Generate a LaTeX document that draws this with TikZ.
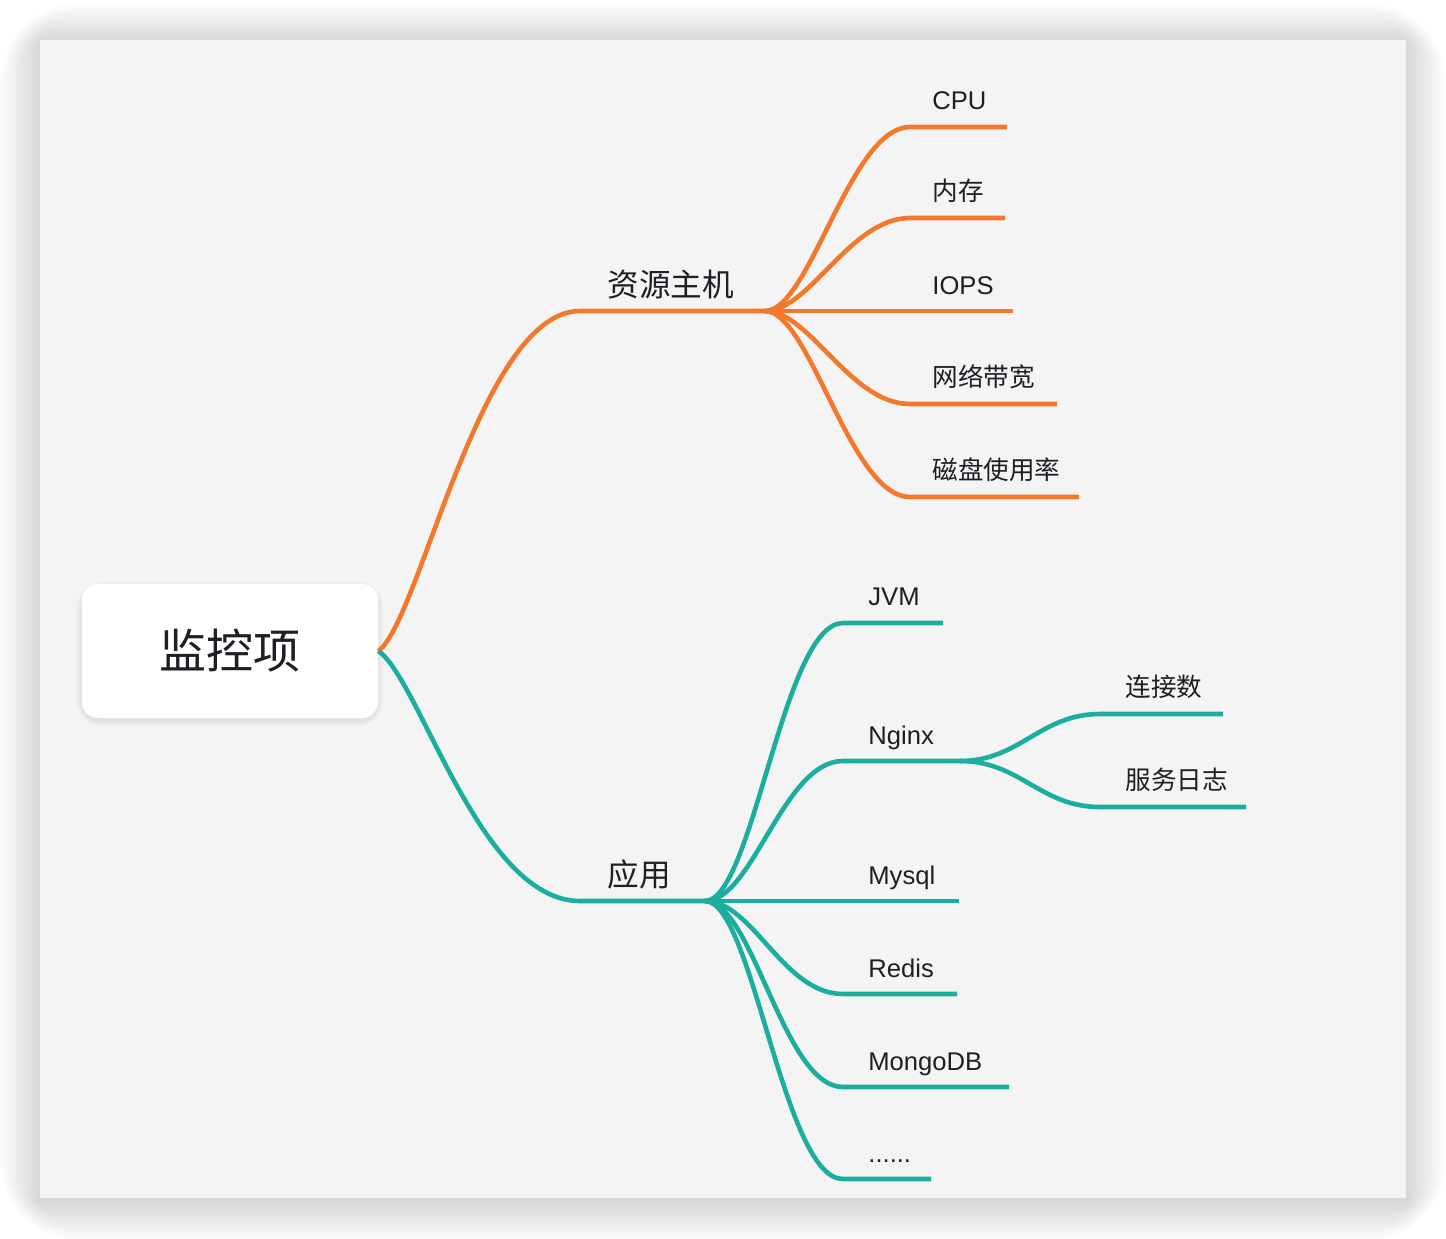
\documentclass[tikz,border=0pt]{standalone}
\usepackage{fontspec}
\setmainfont{Liberation Sans}
\newfontfamily\cjk{Noto Sans CJK SC}
\definecolor{panelgray}{RGB}{244,244,244}
\definecolor{ink}{RGB}{30,30,36}
\definecolor{hostorange}{RGB}{242,121,44}
\definecolor{appteal}{RGB}{27,173,158}
\tikzset{
  rootbox/.style={fill=white, rounded corners=8pt, minimum width=148pt, minimum height=67pt,
    text=ink, font=\cjk\fontsize{23.5pt}{26pt}\selectfont},
  topic/.style={anchor=base west, inner sep=0pt, text=ink, font=\cjk\fontsize{15.8pt}{18pt}\selectfont},
  leaf/.style={anchor=base west, inner sep=0pt, text=ink, font=\fontsize{12.8pt}{15pt}\selectfont},
  hostline/.style={draw=hostorange, line width=2.3pt},
  appline/.style={draw=appteal, line width=2.3pt},
}

\begin{document}
\begin{tikzpicture}[x=0.5pt,y=-0.5pt]
		\useasboundingbox (0,0) rectangle (1446,1238);
		%%%%% PANEL %%%%%
		\foreach \r in {1,...,20}
			\fill[black, opacity=0.006, rounded corners=2*\r] (40-2*\r,43-2*\r) rectangle (1406+2*\r,1201+2*\r);
		\fill[panelgray] (40,40) rectangle (1406,1198);
		
		%%%%% ROOT %%%%%
		\foreach \r in {1,...,6}
			\fill[black, opacity=0.012, rounded corners=8pt+\r] (82-\r,587-\r) rectangle (378+\r,721+\r);
		\node[rootbox] (root) at (230,651) {监控项};
		
		%%%%% 资源主机 %%%%%
		\coordinate (host-s) at (580,311);
		\coordinate (host-e) at (765,311);
		\node[topic] (host) at (607,296) {资源主机};
		\draw[hostline] (root.east) .. controls +(42,-31) and +(-100,0) .. (host-s) -- (host-e);
		
		\coordinate (cpu-s) at (910,127);
		\coordinate (cpu-e) at (1007,127);
		\node[leaf] (cpu) at (932,109) {CPU};
		\draw[hostline] (host-e) .. controls +(45,0) and +(-60,0) .. (cpu-s) -- (cpu-e);
		
		\coordinate (mem-s) at (910,218);
		\coordinate (mem-e) at (1005,218);
		\node[leaf] (mem) at (932,200) {\cjk 内存};
		\draw[hostline] (host-e) .. controls +(45,0) and +(-60,0) .. (mem-s) -- (mem-e);
		
		\coordinate (iops-e) at (1013,311);
		\node[leaf] (iops) at (932,294) {IOPS};
		\draw[hostline] (host-e) -- (iops-e);
		
		\coordinate (net-s) at (910,404);
		\coordinate (net-e) at (1057,404);
		\node[leaf] (net) at (932,386) {\cjk 网络带宽};
		\draw[hostline] (host-e) .. controls +(45,0) and +(-60,0) .. (net-s) -- (net-e);
		
		\coordinate (disk-s) at (910,497);
		\coordinate (disk-e) at (1079,497);
		\node[leaf] (disk) at (932,479) {\cjk 磁盘使用率};
		\draw[hostline] (host-e) .. controls +(45,0) and +(-60,0) .. (disk-s) -- (disk-e);
		
		%%%%% 应用 %%%%%
		\coordinate (app-s) at (580,901);
		\coordinate (app-e) at (705,901);
		\node[topic] (app) at (607,886) {应用};
		\draw[appline] (root.east) .. controls +(42,29) and +(-100,0) .. (app-s) -- (app-e);
		
		\coordinate (jvm-s) at (843,623);
		\coordinate (jvm-e) at (943,623);
		\node[leaf] (jvm) at (868,605) {JVM};
		\draw[appline] (app-e) .. controls +(48,0) and +(-60,0) .. (jvm-s) -- (jvm-e);
		
		\coordinate (nginx-s) at (843,761);
		\coordinate (nginx-e) at (960,761);
		\node[leaf] (nginx) at (868,744) {Nginx};
		\draw[appline] (app-e) .. controls +(48,0) and +(-60,0) .. (nginx-s) -- (nginx-e);
		
		\coordinate (conn-s) at (1100,714);
		\coordinate (conn-e) at (1223,714);
		\node[leaf] (conn) at (1125,696) {\cjk 连接数};
		\draw[appline] (nginx-e) .. controls +(60,0) and +(-60,0) .. (conn-s) -- (conn-e);
		
		\coordinate (log-s) at (1100,807);
		\coordinate (log-e) at (1246,807);
		\node[leaf] (log) at (1125,789) {\cjk 服务日志};
		\draw[appline] (nginx-e) .. controls +(60,0) and +(-60,0) .. (log-s) -- (log-e);
		
		\coordinate (mysql-e) at (959,901);
		\node[leaf] (mysql) at (868,884) {Mysql};
		\draw[appline] (app-e) -- (mysql-e);
		
		\coordinate (redis-s) at (843,994);
		\coordinate (redis-e) at (957,994);
		\node[leaf] (redis) at (868,977) {Redis};
		\draw[appline] (app-e) .. controls +(48,0) and +(-60,0) .. (redis-s) -- (redis-e);
		
		\coordinate (mongo-s) at (843,1087);
		\coordinate (mongo-e) at (1009,1087);
		\node[leaf] (mongo) at (868,1070) {MongoDB};
		\draw[appline] (app-e) .. controls +(48,0) and +(-60,0) .. (mongo-s) -- (mongo-e);
		
		\coordinate (more-s) at (843,1179);
		\coordinate (more-e) at (931,1179);
		\node[leaf] (more) at (868,1162) {......};
		\draw[appline] (app-e) .. controls +(48,0) and +(-60,0) .. (more-s) -- (more-e);
		%%%%% END %%%%%
\end{tikzpicture}
\end{document}
